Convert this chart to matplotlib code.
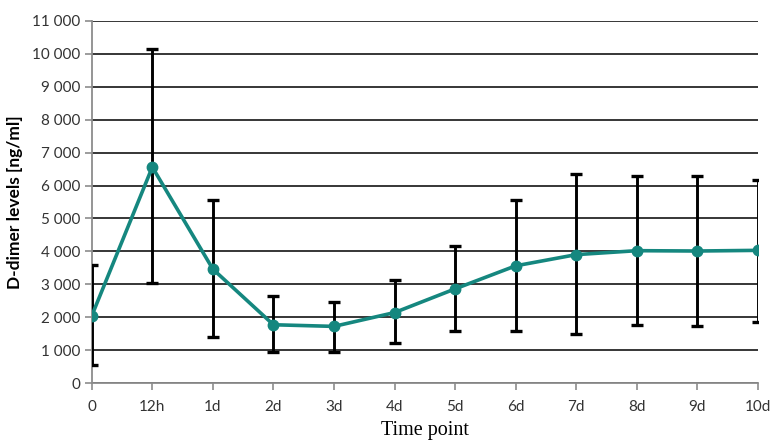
import numpy as np
import matplotlib.pyplot as plt
from matplotlib.ticker import FuncFormatter

# time points and D-dimer values (ng/ml)
labels = ['0', '12h', '1d', '2d', '3d', '4d', '5d', '6d', '7d', '8d', '9d', '10d']
mean = [2040, 6560, 3460, 1770, 1720, 2140, 2860, 3560, 3900, 4020, 4010, 4030]
upper = [3590, 10140, 5570, 2630, 2470, 3130, 4170, 5570, 6340, 6300, 6300, 6180]
lower = [560, 3040, 1390, 950, 950, 1210, 1570, 1570, 1490, 1750, 1720, 1860]

mean = np.array(mean)
err = [mean - np.array(lower), np.array(upper) - mean]
x = np.arange(len(labels))

plt.rcParams['font.family'] = ['Lato', 'DejaVu Sans']

fig = plt.figure(figsize=(7.71, 4.4), dpi=100)
ax = fig.add_axes([0.119, 0.1295, 0.864, 0.823])

ax.errorbar(x, mean, yerr=err, fmt='none', ecolor='black', elinewidth=2.1,
            capsize=4, capthick=2.4, zorder=3)
ax.plot(x, mean, color='#15877f', lw=2.6, marker='o', ms=7.5, zorder=4)

ax.set_xlim(0, 11)
ax.set_ylim(0, 11000)
ax.set_yticks(np.arange(0, 11001, 1000))
ax.yaxis.set_major_formatter(FuncFormatter(lambda v, p: f'{int(v):,}'.replace(',', ' ')))
ax.set_xticks(x)
ax.set_xticklabels(labels)

ax.grid(axis='y', color='black', lw=1.1)
ax.set_axisbelow(True)
for s in ['top', 'right']:
    ax.spines[s].set_visible(False)
for s in ['left', 'bottom']:
    ax.spines[s].set_color('#8c8c8c')
    ax.spines[s].set_linewidth(1.3)
ax.tick_params(colors='#8c8c8c', length=5, width=1.2, labelcolor='#333333',
               labelsize=11)
ax.tick_params(axis='x', pad=7)

ax.set_ylabel('D-dimer levels [ng/ml]', fontsize=12.5, fontweight='bold',
              labelpad=6)
ax.set_xlabel('Time point', fontsize=14.5, family='Liberation Serif', labelpad=5)

fig.savefig('out.png', dpi=100)
